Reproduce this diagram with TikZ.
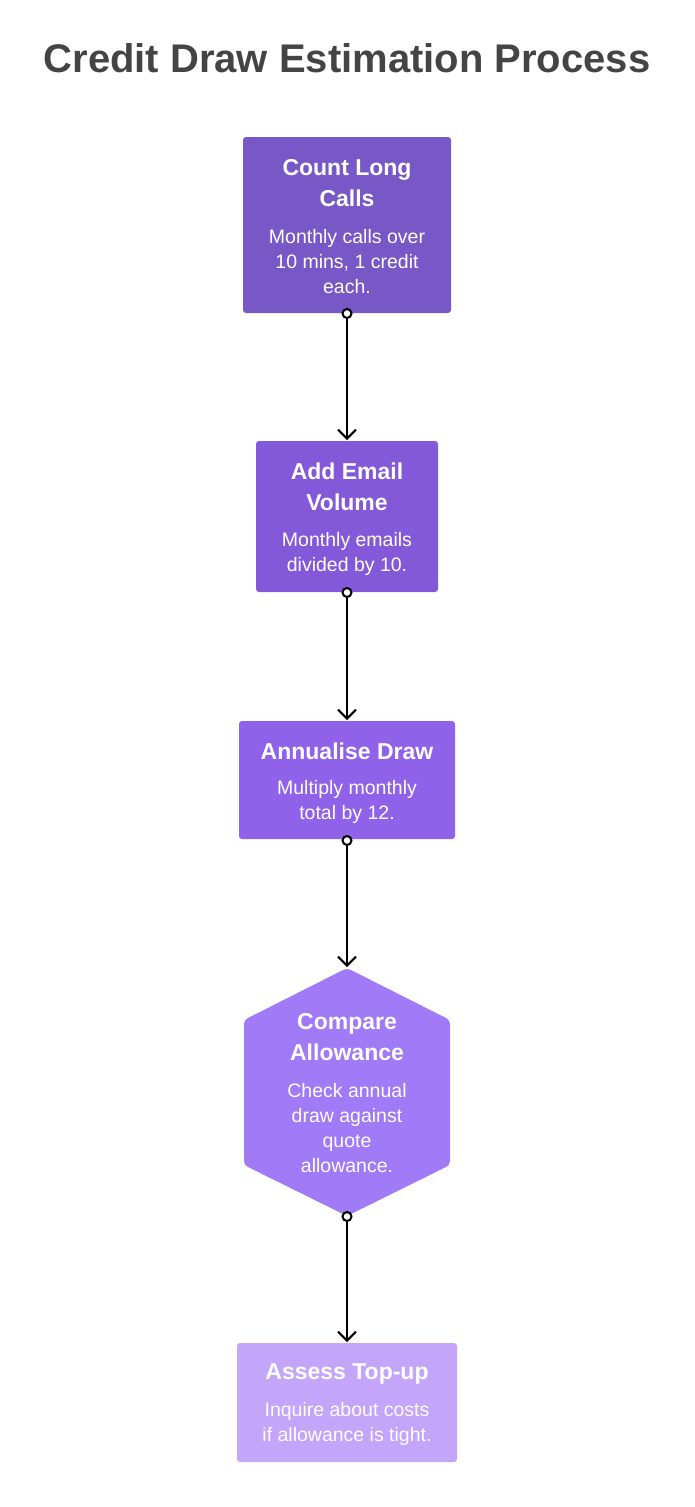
\documentclass[tikz,border=0pt]{standalone}
\usepackage{fontspec}
\setmainfont{Liberation Sans}
\usetikzlibrary{arrows.meta}
\definecolor{stepA}{HTML}{7857C6}
\definecolor{stepB}{HTML}{8459D9}
\definecolor{stepC}{HTML}{9062EA}
\definecolor{stepD}{HTML}{A07AF7}
\definecolor{stepE}{HTML}{C3A5FA}
\definecolor{titlegray}{HTML}{444444}
\tikzset{
  card/.style={rounded corners=3pt, draw=none},
  head/.style={text=white, font=\bfseries\fontsize{23}{31}\selectfont, align=center},
  body/.style={text=white, font=\fontsize{19.5}{25}\selectfont, align=center},
  flow/.style={line width=2pt, {Circle[open,fill=white,length=11pt]}-{Straight Barb[length=9pt,width=18pt]}}
}
\begin{document}
\begin{tikzpicture}[x=1pt,y=-1pt]
	\useasboundingbox (0,0) rectangle (694,1507);
	% title
	\node[text=titlegray, font=\bfseries\fontsize{40}{48}\selectfont] (title) at (347,58) {Credit Draw Estimation Process};
	% boxes
	\fill[card, stepA] (243,137) rectangle (451,313);
	\fill[card, stepB] (256,441) rectangle (438,592);
	\fill[card, stepC] (239,721) rectangle (455,839);
	\fill[stepD, rounded corners=4pt] (347,968) -- (450,1020) -- (450,1165) -- (347,1216) -- (244,1165) -- (244,1020) -- cycle;
	\fill[card, stepE] (237,1343) rectangle (457,1462);
	% texts
	\node[head] (h1) at (347,183) {Count Long\\Calls};
	\node[body] (b1) at (347,262) {Monthly calls over\\10 mins, 1 credit\\each.};
	\node[head] (h2) at (347,487) {Add Email\\Volume};
	\node[body] (b2) at (347,554) {Monthly emails\\divided by 10.};
	\node[head] (h3) at (347,751) {Annualise Draw};
	\node[body] (b3) at (347,802) {Multiply monthly\\total by 12.};
	\node[head] (h4) at (347,1037) {Compare\\Allowance};
	\node[body] (b4) at (347,1128) {Check annual\\draw against\\quote\\allowance.};
	\node[head] (h5) at (347,1374) {Assess Top-up};
	\node[body] (b5) at (347,1424) {Inquire about costs\\if allowance is tight.};
	% anchors
	\coordinate (s1) at (347,308); \coordinate (e1) at (347,440);
	\coordinate (s2) at (347,587); \coordinate (e2) at (347,720);
	\coordinate (s3) at (347,835); \coordinate (e3) at (347,967);
	\coordinate (s4) at (347,1211); \coordinate (e4) at (347,1342);
	% arrows
	\foreach \i in {1,...,4}
	{
		\draw[flow] (s\i) -- (e\i);
	}
\end{tikzpicture}
\end{document}
